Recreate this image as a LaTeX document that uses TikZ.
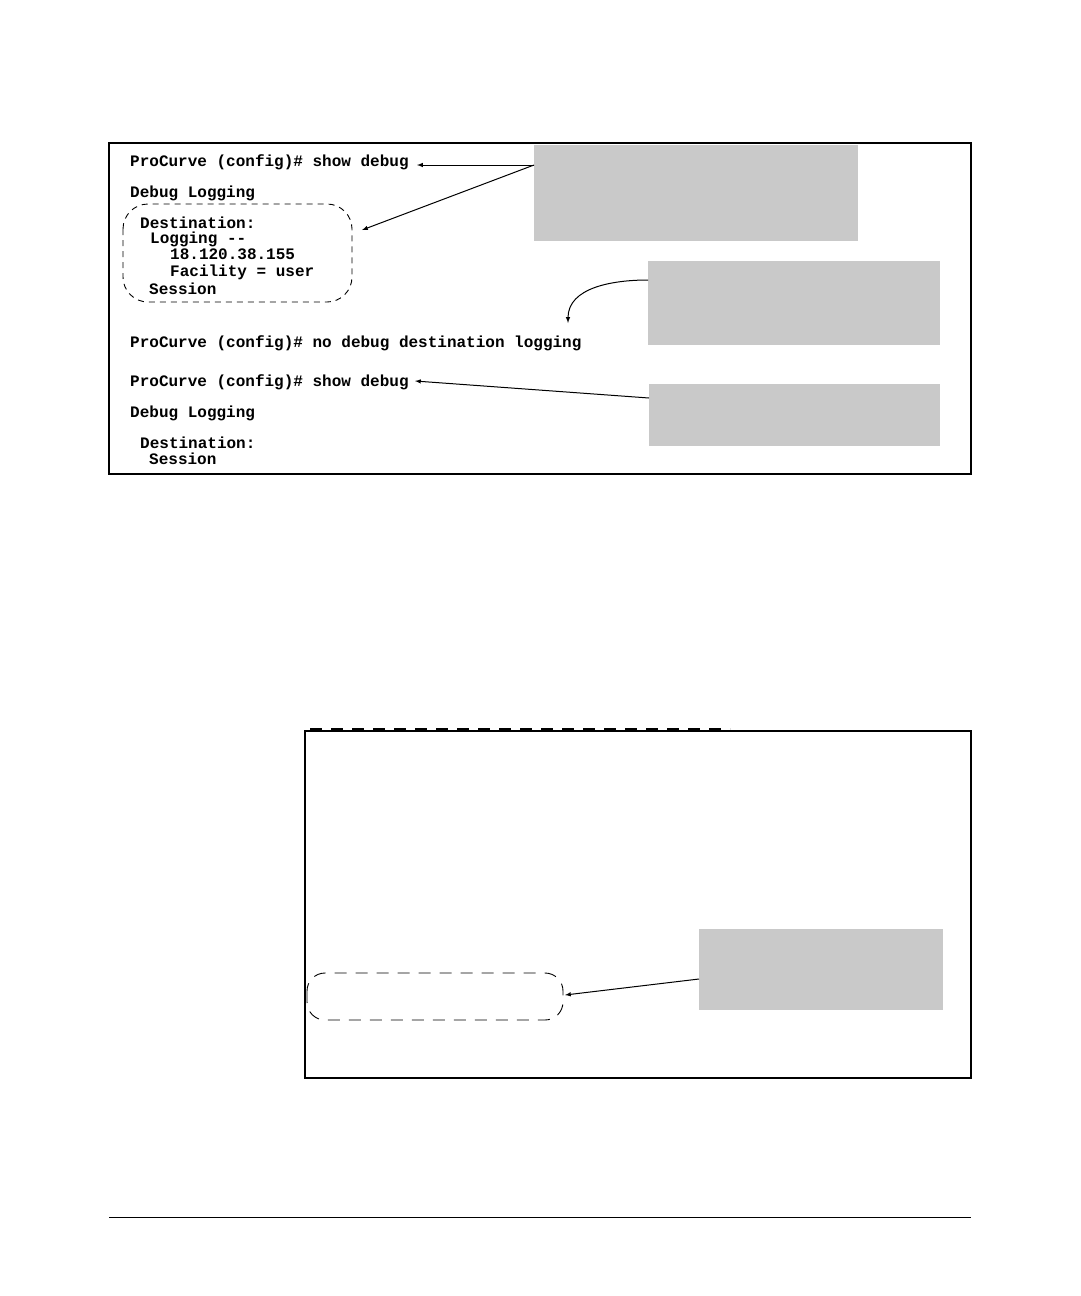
\documentclass[tikz,border=0pt]{standalone}
\usepackage{fontspec}
\setmonofont{Liberation Mono}
\usepackage{tikz}
\tikzset{
  cli/.style={anchor=base west, inner sep=0pt, font=\ttfamily\bfseries\fontsize{16}{16}\selectfont},
  note/.style={fill=notegray, draw=none},
  frame/.style={draw, line width=1.2pt},
  callout/.style={draw, dashed, dash pattern=on 6pt off 5pt, rounded corners=25pt, line width=0.9pt},
  pointer/.style={-latex, line width=1pt}
}
\definecolor{notegray}{HTML}{C9C9C9}
\begin{document}
\begin{tikzpicture}[x=1pt, y=-1pt]
  \useasboundingbox (0,0) rectangle (1080,1296);
  % upper screen
  \draw[frame] (109,143) rectangle (971,474);
  \node[cli] (show1) at (130,166) {ProCurve (config)\# show debug};
  \node[cli] (dbg1) at (130,197) {Debug Logging};
  \node[cli] (dest1) at (140,228) {Destination:};
  \node[cli] (log1) at (150,243) {Logging --};
  \node[cli] (ip1) at (170,259) {18.120.38.155};
  \node[cli] (fac1) at (170,276) {Facility = user};
  \node[cli] (sess1) at (149,294) {Session};
  \node[cli] (nodbg) at (130,347) {ProCurve (config)\# no debug destination logging};
  \node[cli] (show2) at (130,386) {ProCurve (config)\# show debug};
  \node[cli] (dbg2) at (130,417) {Debug Logging};
  \node[cli] (dest2) at (140,448) {Destination:};
  \node[cli] (sess2) at (149,464) {Session};
  \draw[callout] (123,204) rectangle (352,302);
  \node[note, minimum width=324pt, minimum height=96pt, anchor=north west] (noteA) at (534,145) {};
  \node[note, minimum width=292pt, minimum height=84pt, anchor=north west] (noteB) at (648,261) {};
  \node[note, minimum width=291pt, minimum height=62pt, anchor=north west] (noteC) at (649,384) {};
  \coordinate (tipA) at (534,165);
  \coordinate (endA1) at (417,165);
  \coordinate (endA2) at (362,230);
  \coordinate (tipB) at (648,280);
  \coordinate (endB) at (568,323);
  \coordinate (tipC) at (649,398);
  \coordinate (endC) at (415,381);
  \draw[pointer] (tipA) -- (endA1);
  \draw[pointer] (tipA) -- (endA2);
  \draw[pointer] (tipB) to[out=180, in=90] (endB);
  \draw[pointer] (tipC) -- (endC);
  % lower screen
  \draw[dashed, dash pattern=on 12pt off 9pt, line width=1.5pt] (310,729) -- (730,729);
  \draw[frame] (305,731) rectangle (971,1078);
  \draw[callout, dash pattern=on 12pt off 9pt, rounded corners=18pt] (307,973) rectangle (563,1020);
  \node[note, minimum width=244pt, minimum height=81pt, anchor=north west] (noteD) at (699,929) {};
  \coordinate (tipD) at (699,979);
  \coordinate (endD) at (565,995);
  \draw[pointer] (tipD) -- (endD);
  % page rule
  \draw[line width=0.6pt] (109,1217) -- (971,1217);
\end{tikzpicture}
\end{document}
